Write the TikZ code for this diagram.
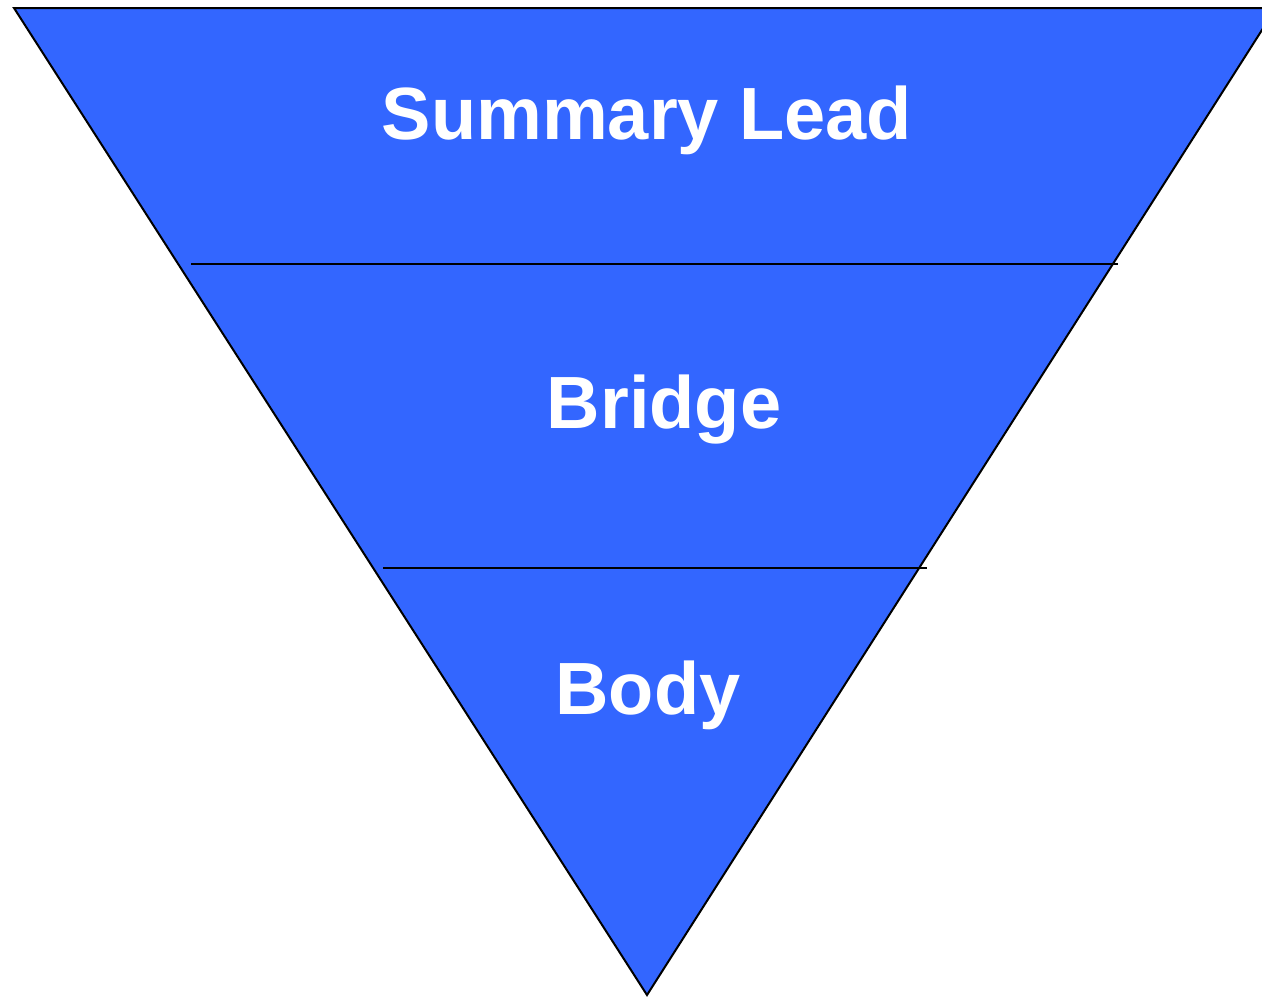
\documentclass[tikz,border=0pt]{standalone}
\usepackage{fontspec}
\setmainfont{Liberation Sans}
\usepackage{tikz}
\definecolor{leadblue}{RGB}{51,102,255}

\begin{document}
\begin{tikzpicture}[x=0.5pt,y=-0.5pt]
    \tikzset{layer/.style={white, font=\fontsize{37}{44}\selectfont\bfseries, anchor=base}}
    \useasboundingbox (0,0) rectangle (1262,997);
    \clip (0,0) rectangle (1262,997);
    \draw [fill=leadblue, line width=1pt, line join=miter](14,8) -- (1276,8) -- (647,995) -- cycle;
    \draw [line width=1pt](191,264) -- (1118,264);
    \draw [line width=1pt](383,568) -- (927,568);
    \node [layer] (lead) at (647,139) {Summary Lead};
    \node [layer] (bridge) at (664,428) {Bridge};
    \node [layer] (body) at (648,714) {Body};
\end{tikzpicture}
\end{document}
